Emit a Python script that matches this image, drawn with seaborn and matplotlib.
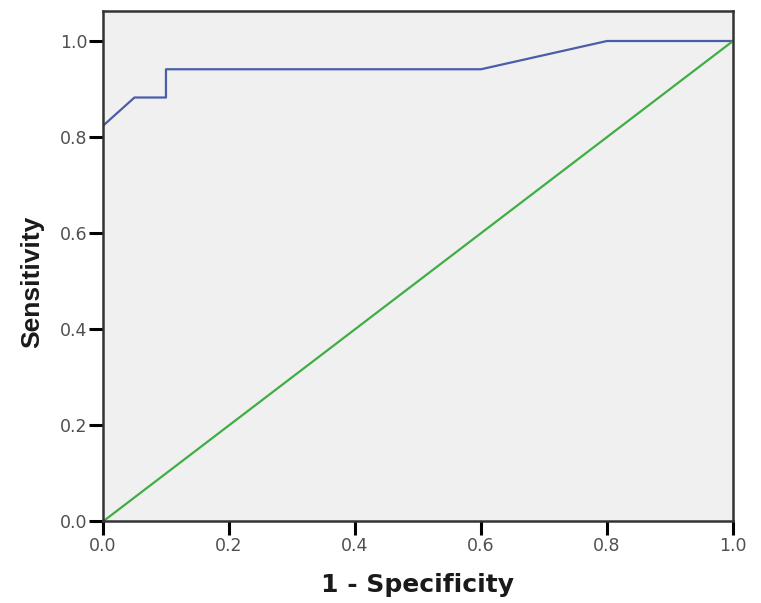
import matplotlib
matplotlib.use("Agg")
import matplotlib.pyplot as plt
import pandas as pd
import seaborn as sns

# ROC curve points (1 - specificity, sensitivity)
fpr = [0.0, 0.05, 0.10, 0.10, 0.60, 0.80, 1.0]
tpr = [0.8235, 0.8824, 0.8824, 0.9412, 0.9412, 1.0, 1.0]
ref_x = [0.0, 1.0]
ref_y = [0.0, 1.0]
ticks = [0.0, 0.2, 0.4, 0.6, 0.8, 1.0]

sns.set_style("white")
plt.rcParams["font.family"] = ["Liberation Sans", "DejaVu Sans"]

fig = plt.figure(figsize=(7.61, 6.03), dpi=100)
ax = fig.add_axes([0.1353, 0.1352, 0.8279, 0.8466])
ax.set_facecolor("#f0f0f0")

roc = pd.DataFrame({"fpr": fpr, "tpr": tpr})
sns.lineplot(data=roc, x="fpr", y="tpr", ax=ax, sort=False, estimator=None,
             color="#4a5ea8", lw=1.6)
sns.lineplot(x=ref_x, y=ref_y, ax=ax, color="#3fae44", lw=1.6)

ax.set_xlim(0, 1)
ax.set_ylim(0, 1.0625)
ax.set_xticks(ticks)
ax.set_yticks(ticks)
lbl = [f"{t:.1f}" for t in ticks]
ax.set_xticklabels(lbl, fontsize=12.5, color="#505050", family="DejaVu Sans")
ax.set_yticklabels(lbl, fontsize=12.5, color="#505050", family="DejaVu Sans")
ax.tick_params(axis="both", direction="out", length=10, width=2.2,
               color="black", left=True, bottom=True, pad=1)
for s in ax.spines.values():
    s.set_color("#333333")
    s.set_linewidth(1.8)

ax.set_xlabel("1 - Specificity", fontsize=18, fontweight="bold",
              family="DejaVu Sans", labelpad=13, color="#1a1a1a")
ax.set_ylabel("Sensitivity", fontsize=19, fontweight="bold", color="#1a1a1a")
ax.yaxis.set_label_coords(-0.094, 0.47)

fig.savefig("out.png", dpi=100)
